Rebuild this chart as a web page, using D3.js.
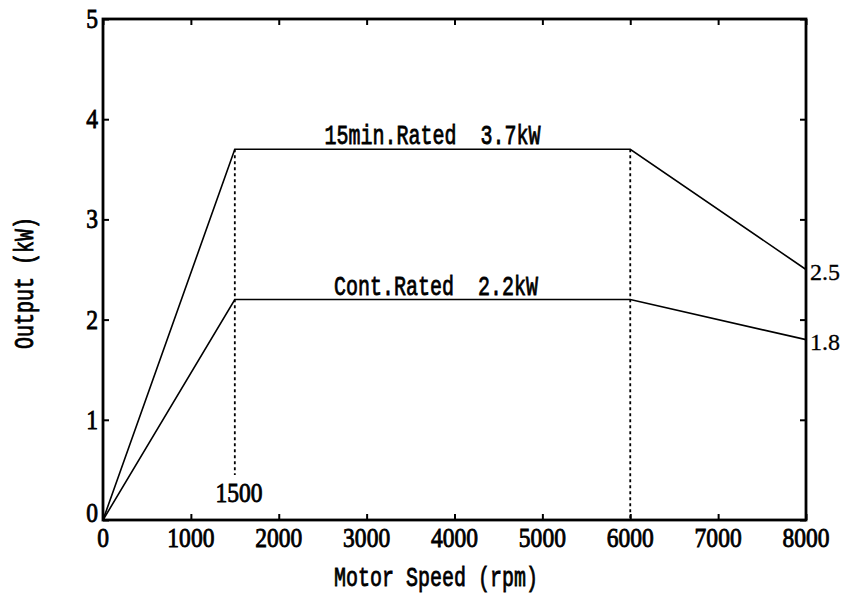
<!DOCTYPE html>
<html>
<head>
<meta charset="utf-8">
<script src="https://cdn.jsdelivr.net/npm/d3@7"></script>
<style>
	body	{margin:0; background:#fff;}
	svg	{display:block;}
	.mono	{font-family:"Liberation Mono", monospace; white-space:pre;}
	.num	{font-family:"Liberation Serif", serif;}
</style>
</head>
<body>
<div id="chart"></div>
<script>
var	speeds		= [0, 1500, 6000, 8000],
	rated15		= [0, 3.7, 3.7, 2.5],
	ratedCont	= [0, 2.2, 2.2, 1.8],
	xTicks		= [0, 1000, 2000, 3000, 4000, 5000, 6000, 7000, 8000],
	yTicks		= [0, 1, 2, 3, 4, 5],
	markSpeeds	= [1500, 6000],
	curveLabels	= ["15min.Rated  3.7kW", "Cont.Rated  2.2kW"];

var	W = 851, H = 601,
	m = {left:103, right:45, top:19, bottom:81},
	svg = d3.select("#chart").append("svg").attr("width", W).attr("height", H),
	x = d3.scaleLinear().domain([0, 8000]).range([m.left, W - m.right]),
	y = d3.scaleLinear().domain([0, 5]).range([H - m.bottom, m.top]),
	tk = 6;

// condensed serif numbers
function num(g, tx, ty, txt, anchor, size, sx, sw) {
	g.append("text").attr("class", "num")
		.attr("transform", "translate(" + tx + "," + ty + ") scale(" + (sx || 0.84) + ",1)")
		.attr("text-anchor", anchor).attr("dominant-baseline", "alphabetic")
		.attr("font-size", size || 28).attr("stroke", "#000").attr("stroke-width", sw == null ? 0.9 : sw)
		.text(txt);
}
// tall monospace labels
function mono(g, tx, ty, txt, rot) {
	g.append("text").attr("class", "mono")
		.attr("transform", "translate(" + tx + "," + ty + ")" + (rot ? " rotate(-90)" : "") + " scale(1,1.35)")
		.attr("text-anchor", "middle").attr("font-size", 20)
		.attr("stroke", "#000").attr("stroke-width", 0.6)
		.text(txt);
}

// dotted markers
svg.selectAll(".mark").data(markSpeeds).enter().append("line")
	.attr("x1", function(d) { return x(d); }).attr("x2", function(d) { return x(d); })
	.attr("y1", y(3.7)).attr("y2", function(d) { return d == 1500 ? 475 : y(0); })
	.attr("stroke", "#000").attr("stroke-width", 1.8).attr("stroke-dasharray", "3,3");

// curves
var line = d3.line().x(function(d) { return x(d[0]); }).y(function(d) { return y(d[1]); });
[rated15, ratedCont].forEach(function(s) {
	svg.append("path").attr("d", line(speeds.map(function(v, i) { return [v, s[i]]; })))
		.attr("fill", "none").attr("stroke", "#000").attr("stroke-width", 1.6);
});

// frame + inward ticks
svg.append("rect").attr("x", x(0)).attr("y", y(5)).attr("width", x(8000) - x(0)).attr("height", y(0) - y(5))
	.attr("fill", "none").attr("stroke", "#000").attr("stroke-width", 2.8);
svg.append("g").attr("transform", "translate(0," + y(0) + ")")
	.call(d3.axisBottom(x).tickValues(xTicks).tickSize(-tk).tickFormat(""));
svg.append("g").attr("transform", "translate(0," + y(5) + ")")
	.call(d3.axisTop(x).tickValues(xTicks).tickSize(-tk).tickFormat(""));
svg.append("g").attr("transform", "translate(" + x(0) + ",0)")
	.call(d3.axisLeft(y).tickValues(yTicks).tickSize(-tk).tickFormat(""));
svg.append("g").attr("transform", "translate(" + x(8000) + ",0)")
	.call(d3.axisRight(y).tickValues(yTicks).tickSize(-tk).tickFormat(""));
svg.selectAll(".domain").remove();
svg.selectAll(".tick line").attr("stroke", "#000").attr("stroke-width", 2);

// tick labels
xTicks.forEach(function(v) { num(svg, x(v), 547, v, "middle"); });
yTicks.forEach(function(v) { num(svg, 98, y(v) + (v == 0 ? 2 : 9), v, "end"); });

// point labels
num(svg, 239, 502, "1500", "middle");
num(svg, 810, y(2.5) + 10, "2.5", "start", 24, 1, 0.3);
num(svg, 810, y(1.8) + 10, "1.8", "start", 24, 1, 0.3);

// curve labels
mono(svg, x(3750), y(3.7) - 5, curveLabels[0]);
mono(svg, x(3790), y(2.2) - 5, curveLabels[1]);

// axis titles
mono(svg, 436, 586, "Motor Speed (rpm)");
mono(svg, 33, 283, "Output (kW)", true);
</script>
</body>
</html>
